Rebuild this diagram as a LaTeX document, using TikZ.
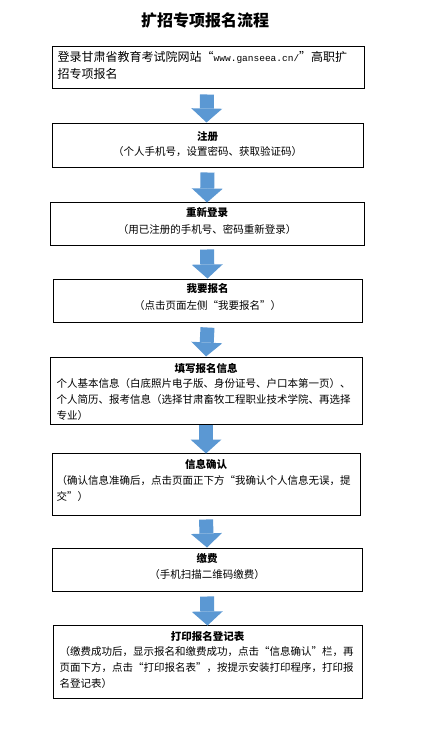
\documentclass[tikz,border=0pt]{standalone}
\usepackage{fontspec}
\setmainfont{Noto Sans CJK SC}
\newfontfamily\urlfont{Liberation Mono}
\usetikzlibrary{arrows.meta,calc}
\definecolor{arrowblue}{RGB}{91,152,211}
\tikzset{
  box/.style={draw=black, line width=1pt, inner sep=0pt},
  head/.style={font=\fontsize{10.5}{16}\selectfont\bfseries, anchor=center, inner sep=0pt},
  sub/.style={font=\fontsize{10.5}{16}\selectfont, anchor=center, inner sep=0pt},
  body/.style={font=\fontsize{10.5}{16}\selectfont, align=left, anchor=north west, inner sep=0pt},
  flow/.style={draw=arrowblue, line width=14pt, -{Triangle[width=31pt,length=14pt,line width=0pt]}},
}
\begin{document}
\begin{tikzpicture}[x=1pt,y=-1pt]
\useasboundingbox[fill=white] (0,0) rectangle (422,733);
% title
\node[font=\fontsize{16}{20}\selectfont\bfseries, inner sep=0pt] (title) at (205,20) {扩招专项报名流程};
% boxes
\node[box, minimum width=312pt, minimum height=42pt] (b1) at (208,68) {};
\node[box, minimum width=311pt, minimum height=43pt] (b2) at (207.5,145.5) {};
\node[box, minimum width=314pt, minimum height=43pt] (b3) at (207,223.5) {};
\node[box, minimum width=309pt, minimum height=43pt] (b4) at (207.5,300.5) {};
\node[box, minimum width=312pt, minimum height=67pt] (b5) at (206,390.5) {};
\node[box, minimum width=308pt, minimum height=62pt] (b6) at (206,484) {};
\node[box, minimum width=310pt, minimum height=43pt] (b7) at (207,569.5) {};
\node[box, minimum width=309pt, minimum height=73pt] (b8) at (207.5,661.5) {};
% texts
\node[font=\fontsize{12}{17}\selectfont, align=left, anchor=north west, inner sep=0pt] (t1) at ($(b1.north west)+(6,5)$)
  {登录甘肃省教育考试院网站“{\urlfont\fontsize{9.5}{17}\selectfont www.ganseea.cn/}”高职扩\\招专项报名};
\node[head] (h2) at ($(b2.north)+(0,13)$) {注册};
\node[sub] (s2) at ($(h2)+(0,15)$) {（个人手机号，设置密码、获取验证码）};
\node[head] (h3) at ($(b3.north)+(0,11)$) {重新登录};
\node[sub] (s3) at ($(h3)+(0,17)$) {（用已注册的手机号、密码重新登录）};
\node[head] (h4) at ($(b4.north)+(0,10)$) {我要报名};
\node[sub] (s4) at ($(h4)+(0,17)$) {（点击页面左侧“我要报名”）};
\node[head] (h5) at ($(b5.north)+(0,12)$) {填写报名信息};
\node[body] (t5) at ($(b5.north west)+(7,22)$)
  {个人基本信息（白底照片电子版、身份证号、户口本第一页）、\\个人简历、报考信息（选择甘肃畜牧工程职业技术学院、再选择\\专业）};
\node[head] (h6) at ($(b6.north)+(0,12)$) {信息确认};
\node[body] (t6) at ($(b6.north west)+(5,23)$)
  {（确认信息准确后，点击页面正下方“我确认个人信息无误，提\\交”）};
\node[head] (h7) at ($(b7.north)+(0,11)$) {缴费};
\node[sub] (s7) at ($(h7)+(0,16)$) {（手机扫描二维码缴费）};
\node[head] (h8) at ($(b8.north)+(0,12)$) {打印报名登记表};
\node[body] (t8) at ($(b8.north west)+(7,22)$)
  {（缴费成功后，显示报名和缴费成功，点击“信息确认”栏，再\\页面下方，点击“打印报名表”，按提示安装打印程序，打印报\\名登记表）};
% arrows
\draw[flow] ($(b1.south)+(-1,5)$) -- ($(b2.north)+(-1,-1)$);
\draw[flow] ($(b2.south)+(0,5)$) -- ($(b3.north)+(0,1)$);
\draw[flow] ($(b3.south)+(0,4)$) -- (b4.north);
\draw[flow] ($(b4.south)+(0,5)$) -- (b5.north);
\draw[flow] (b5.south) -- ($(b6.north)+(0,1)$);
\draw[flow] ($(b6.south)+(0,4)$) -- (b7.north);
\draw[flow] ($(b7.south)+(0,5)$) -- ($(b8.north)+(0,1)$);
\end{tikzpicture}
\end{document}
